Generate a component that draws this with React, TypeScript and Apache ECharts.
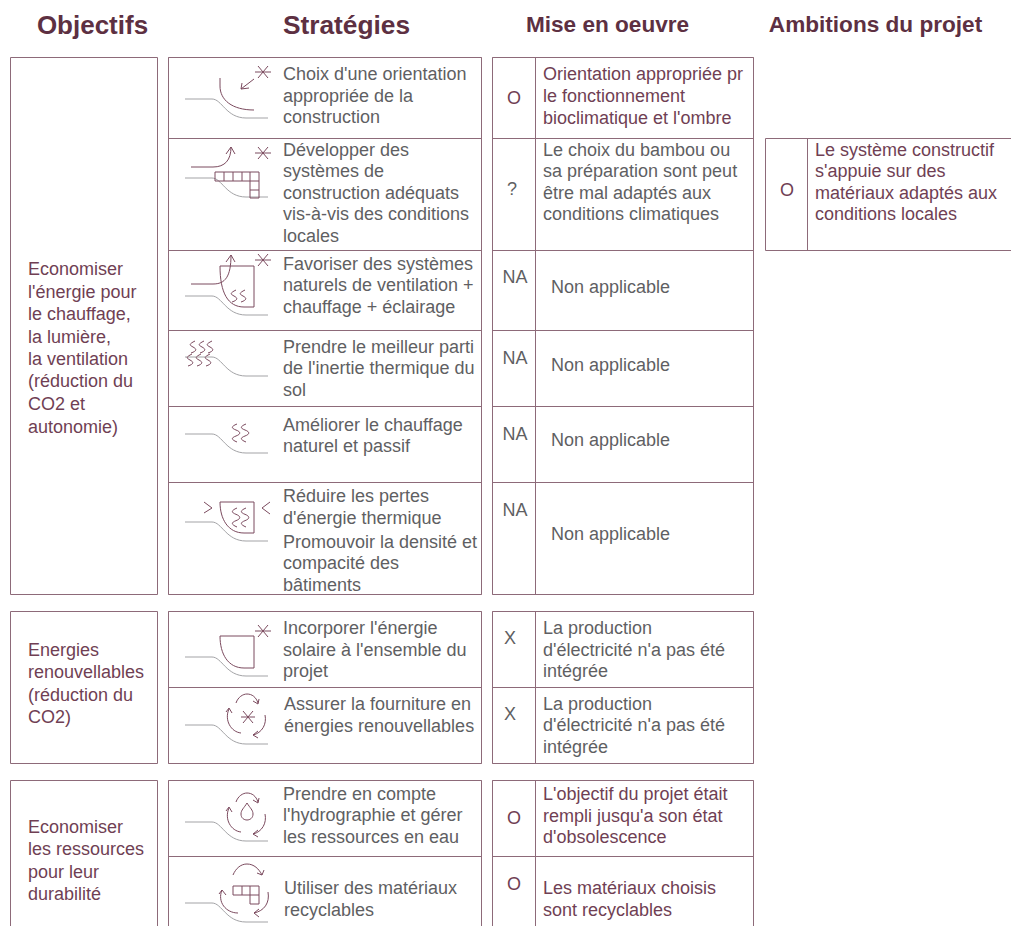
import React, { useEffect, useRef } from "react";
import * as echarts from "echarts";

const headers = ["Objectifs", "Stratégies", "Mise en oeuvre", "Ambitions du projet"];

const objectifs = [
  ["Economiser", "l'énergie pour", "le chauffage,", "la lumière,", "la ventilation", "(réduction du", "CO2 et", "autonomie)"],
  ["Energies", "renouvellables", "(réduction du", "CO2)"],
  ["Economiser", "les ressources", "pour leur", "durabilité"],
];

const strategies = [
  ["Choix d'une orientation", "appropriée de la", "construction"],
  ["Développer des", "systèmes de", "construction adéquats", "vis-à-vis des conditions", "locales"],
  ["Favoriser des systèmes", "naturels de ventilation +", "chauffage + éclairage"],
  ["Prendre le meilleur parti", "de l'inertie thermique du", "sol"],
  ["Améliorer le chauffage", "naturel et passif"],
  ["Réduire les pertes", "d'énergie thermique", "Promouvoir la densité et", "compacité des", "bâtiments"],
  ["Incorporer l'énergie", "solaire à l'ensemble du", "projet"],
  ["Assurer la fourniture en", "énergies renouvellables"],
  ["Prendre en compte", "l'hydrographie et gérer", "les ressources en eau"],
  ["Utiliser des matériaux", "recyclables"],
];

const marks = ["O", "?", "NA", "NA", "NA", "NA", "X", "X", "O", "O"];

const miseEnOeuvre = [
  ["Orientation appropriée pr", "le fonctionnement", "bioclimatique et l'ombre"],
  ["Le choix du bambou ou", "sa préparation sont peut", "être mal adaptés aux", "conditions climatiques"],
  ["Non applicable"],
  ["Non applicable"],
  ["Non applicable"],
  ["Non applicable"],
  ["La production", "d'électricité n'a pas été", "intégrée"],
  ["La production", "d'électricité n'a pas été", "intégrée"],
  ["L'objectif du projet était", "rempli jusqu'a son état", "d'obsolescence"],
  ["Les matériaux choisis", "sont recyclables"],
];

const ambitionMark = "O";
const ambition = ["Le système constructif", "s'appuie sur des", "matériaux adaptés aux", "conditions locales"];

// Layout
const FONT = "'Liberation Sans', Arial, sans-serif";
const MAROON = "#703f54";
const GREY = "#5f5f63";
const TITLE = "#5d3042";
const LINE = "#8d6a79";
const ICON = "#7b4a5e";
const GROUND = "#a3a3a6";
const SIZE = 18;

const objY = [
  [269, 292, 314, 337, 359, 381, 404, 427],
  [650, 672, 695, 717],
  [827, 849, 872, 894],
];
const strY = [
  [74, 96, 117],
  [150, 171, 193, 214, 236],
  [264, 285, 307],
  [347, 368, 390],
  [425, 446],
  [496, 518, 542, 563, 585],
  [628, 650, 671],
  [704, 726],
  [794, 815, 837],
  [888, 910],
];
const strX = [283, 283, 283, 283, 283, 283, 283, 284, 283, 284];
const markPos = [[514, 98], [512, 189], [515, 277], [515, 358], [515, 434], [515, 510], [510, 638], [510, 714], [514, 818], [514, 884]];
const miseY = [
  [74, 96, 118],
  [150, 171, 193, 214],
  [287],
  [365],
  [440],
  [534],
  [628, 650, 671],
  [704, 725, 747],
  [794, 816, 837],
  [888, 910],
];
const miseX = [543, 543, 551, 551, 551, 551, 543, 543, 543, 543];
const miseColor = [MAROON, GREY, GREY, GREY, GREY, GREY, GREY, GREY, MAROON, MAROON];
const rowLines = [57, 138, 250, 330, 406, 482, 594, 611, 687, 763, 780, 856];

const groundY = [99, 178, 296, 357, 434, 522, 657, 725, 822, 903];

const ground = (y: number) => `M185 ${y}H212C222 ${y} 226 ${y + 19} 246 ${y + 19}H268`;
const star = (x: number, y: number, r = 8) =>
  `M${x - r} ${y}H${x + r}M${x - 5} ${y - 6}L${x + 5} ${y + 6}M${x + 5} ${y - 6}L${x - 5} ${y + 6}`;
const wave = (x: number, y: number, h: number) => {
  const k = h / 12;
  return `M${x + 2} ${y}C${x - 4} ${y + 3 * k} ${x - 4} ${y + 4 * k} ${x} ${y + 6 * k}C${x + 4} ${y + 8 * k} ${x + 4} ${y + 10 * k} ${x - 2} ${y + 12 * k}`;
};
const wave3 = (x: number, y: number, h: number) => {
  const s = h / 3;
  return `M${x + 1} ${y}C${x - 5} ${y + s * 0.4} ${x - 5} ${y + s * 0.7} ${x} ${y + s}C${x + 5} ${y + s * 1.3} ${x + 5} ${y + s * 1.7} ${x} ${y + s * 2}C${x - 5} ${y + s * 2.3} ${x - 5} ${y + s * 2.6} ${x + 1} ${y + h}`;
};
const building = (top: number, bottom: number) =>
  `M220 ${top}H254V${bottom}H244C228 ${bottom} 220 ${bottom - 14} 220 ${top}Z`;
const upArrow = (y: number, top: number) =>
  `M191 ${y}H213C225 ${y} 231 ${y - 7} 231 ${top}M226 ${top + 7}L231 ${top}L235 ${top + 7}`;
const grid = (xs: number[], top: number) => {
  const r = top + 9;
  let d = `M${xs[0]} ${top}H${xs[xs.length - 1]}M${xs[0]} ${r}H${xs[xs.length - 1]}`;
  xs.forEach((x) => (d += `M${x} ${top}V${r}`));
  return d;
};
const recycle = (dy: number) =>
  `M236 ${703 + dy}C238 ${697 + dy} 243 ${694 + dy} 247 ${694 + dy}C252 ${694 + dy} 256 ${697 + dy} 258 ${703 + dy}M253 ${701 + dy}L258 ${704 + dy}L259 ${699 + dy}` +
  `M229 ${709 + dy}C224 ${720 + dy} 231 ${732 + dy} 241 ${733 + dy}M226 ${712 + dy}L229 ${708 + dy}L232 ${713 + dy}` +
  `M265 ${715 + dy}C267 ${724 + dy} 262 ${733 + dy} 253 ${735 + dy}M258 ${731 + dy}L253 ${735 + dy}L258 ${738 + dy}`;

const icons: string[] = [
  "M220 78V86C220 100 232 110 254 110" + star(263, 72) + "M254 79L241 89M242 83L241 89L249 88",
  star(263, 153) + upArrow(167, 147) + grid([215, 224, 233, 242, 250, 259], 172) +
    "M250 181V198H259V181M250 190H259",
  star(263, 260) + upArrow(284, 255) + building(266, 307) + wave(234, 290, 12) + wave(243, 290, 12),
  wave(193, 341, 12) + wave(202, 341, 12) + wave(210, 341, 12) + wave(190, 354, 12) + wave(199, 354, 12) + wave(208, 354, 12),
  wave3(236, 424, 18) + wave3(245, 424, 18),
  building(502, 533) + wave3(236, 508, 19) + wave3(245, 508, 19) + "M204 502L212 508L204 513M270 502L262 508L270 514",
  building(636, 668) + star(263, 631),
  recycle(0) + star(248, 717, 7),
  recycle(99) + "M247 803C250 808 253 810 253 814C253 818 250 820 247 820C244 820 241 818 241 814C241 810 244 808 247 803Z",
  "M233 875C236 868 241 864 247 864C254 864 259 869 262 875M257 873L262 875L264 870" +
    "M222 890C217 902 226 913 238 913M219 894L222 890L226 895" +
    "M268 892C270 903 264 911 254 913M259 909L254 913L259 917" +
    grid([233, 242, 250, 259], 886) + "M250 895V904H259V895",
];

const txt = (text: string, x: number, y: number, fill: string, fontSize = SIZE, fontWeight = "normal", align = "left") => ({
  type: "text",
  x,
  y,
  silent: true,
  style: { text, fill, font: `${fontWeight} ${fontSize}px ${FONT}`, textAlign: align, textVerticalAlign: "middle" },
});
const rect = (x: number, y: number, w: number, h: number) => ({
  type: "rect",
  silent: true,
  shape: { x: x + 0.5, y: y + 0.5, width: w, height: h },
  style: { fill: "none", stroke: LINE, lineWidth: 1 },
});
const seg = (x1: number, y1: number, x2: number, y2: number) => ({
  type: "line",
  silent: true,
  shape: { x1: x1 + 0.5, y1: y1 + 0.5, x2: x2 + 0.5, y2: y2 + 0.5 },
  style: { stroke: LINE, lineWidth: 1 },
});

function buildElements() {
  const els: any[] = [];
  els.push(txt(headers[0], 92.5, 25, TITLE, 26, "bold", "center"));
  els.push(txt(headers[1], 346.5, 25, TITLE, 26.3, "bold", "center"));
  els.push(txt(headers[2], 607.5, 24, TITLE, 22.6, "bold", "center"));
  els.push(txt(headers[3], 875.5, 24, TITLE, 22.6, "bold", "center"));

  // Boxes
  els.push(rect(10, 57, 147, 537), rect(10, 611, 147, 152));
  els.push(seg(10, 780, 157, 780), seg(10, 780, 10, 930), seg(157, 780, 157, 930));
  [[57, 594], [611, 763]].forEach(([a, b]) => {
    els.push(rect(168, a, 313, b - a), rect(492, a, 261, b - a), seg(535, a, 535, b));
  });
  [168, 481, 492, 753, 535].forEach((x) => els.push(seg(x, 780, x, 930)));
  els.push(seg(168, 780, 481, 780), seg(492, 780, 753, 780));
  rowLines.forEach((y) => {
    els.push(seg(168, y, 481, y), seg(492, y, 753, y));
  });
  els.push(seg(765, 138, 1011, 138), seg(765, 250, 1011, 250), seg(765, 138, 765, 250), seg(807, 138, 807, 250));

  // Icons
  icons.forEach((d, i) => {
    const g = `ground${i}`;
    const s = `icon${i}`;
    echarts.graphic.registerShape(g, echarts.graphic.extendPath(ground(groundY[i]), {}));
    echarts.graphic.registerShape(s, echarts.graphic.extendPath(d, {}));
    els.push({ type: g, x: 0, y: 0, silent: true, style: { fill: "none", stroke: GROUND, lineWidth: 1 } });
    els.push({ type: s, x: 0, y: 0, silent: true, style: { fill: "none", stroke: ICON, lineWidth: 1 } });
  });

  // Texts
  objectifs.forEach((lines, i) => lines.forEach((t, j) => els.push(txt(t, 28, objY[i][j], MAROON))));
  strategies.forEach((lines, i) => lines.forEach((t, j) => els.push(txt(t, strX[i], strY[i][j], GREY))));
  marks.forEach((m, i) => els.push(txt(m, markPos[i][0], markPos[i][1], miseColor[i], SIZE, "normal", "center")));
  miseEnOeuvre.forEach((lines, i) => lines.forEach((t, j) => els.push(txt(t, miseX[i], miseY[i][j], miseColor[i]))));
  els.push(txt(ambitionMark, 787, 190, MAROON, SIZE, "normal", "center"));
  const ambY = [150, 171, 193, 214];
  ambition.forEach((t, j) => els.push(txt(t, 815, ambY[j], MAROON)));
  return els;
}

export default function App() {
  const ref = useRef<HTMLDivElement>(null);
  useEffect(() => {
    document.body.style.margin = "0";
    const chart = echarts.init(ref.current!, null, { renderer: "svg" });
    chart.setOption({ animation: false, backgroundColor: "#ffffff", graphic: { elements: buildElements() } });
    return () => chart.dispose();
  }, []);
  return <div ref={ref} style={{ width: 1011, height: 926 }} />;
}
